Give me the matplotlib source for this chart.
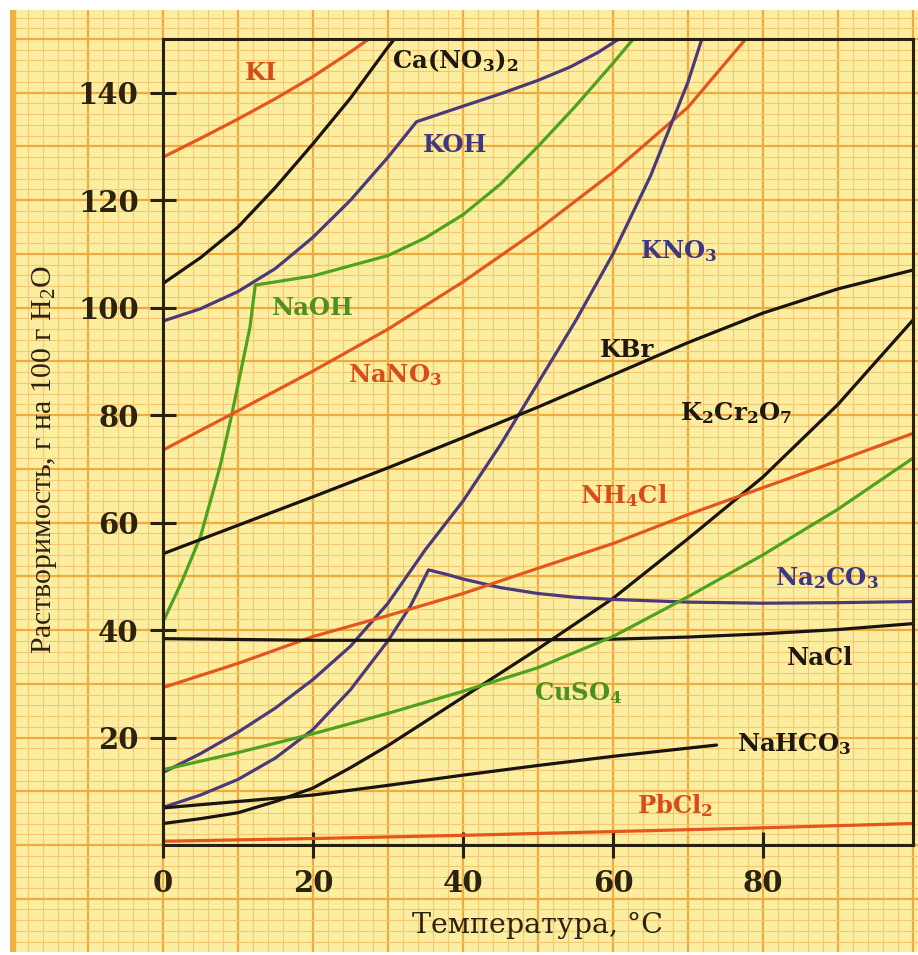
import numpy as np
import matplotlib
matplotlib.use('Agg')
import matplotlib.pyplot as plt

plt.rcParams['mathtext.default'] = 'regular'

# ---------------- data ----------------
ki_t = [0, 5, 10, 15, 20, 25, 30]
ki_s = [128, 131.5, 135.1, 138.9, 143, 147.6, 152.5]

cano3_t = [0, 5, 10, 15, 20, 25, 30, 32]
cano3_s = [104.5, 109.3, 115, 122.4, 130.5, 139, 148.5, 152]

koh_t = [0, 5, 10, 15, 20, 25, 30, 33.8, 40, 45, 50, 54.3, 58, 63]
koh_s = [97.5, 99.8, 103, 107.3, 113.1, 120, 128, 134.6, 137.5, 139.8, 142.3, 144.8, 147.5, 152]

naoh_t = [0, 2.5, 5, 7.6, 9.2, 11.6, 12.3, 15, 20, 25, 30, 35, 40, 45, 50, 55, 60, 63]
naoh_s = [41.5, 49, 57.4, 70.4, 80.3, 96.4, 104.2, 104.8, 105.9, 107.8, 109.7, 113, 117.3, 123, 130, 137.5, 145.5, 150.5]

nano3_t = [0, 10, 20, 30, 40, 50, 60, 70, 78]
nano3_s = [73.5, 80.8, 88.2, 96, 104.8, 114.5, 125.2, 137.3, 150.5]

kno3_t = [0, 5, 10, 15, 20, 25, 30, 35, 40, 45, 50, 55, 60, 65, 70, 73]
kno3_s = [13.5, 17, 21, 25.5, 30.8, 37, 45, 55, 64, 74.5, 86, 97.5, 110, 124.5, 142, 155]

kbr_t = [0, 10, 20, 30, 40, 50, 60, 70, 80, 90, 100]
kbr_s = [54.2, 59.5, 64.8, 70.2, 75.8, 81.5, 87.5, 93.5, 99, 103.5, 107]

k2cr2o7_t = [0, 5, 10, 15, 20, 25, 30, 40, 50, 60, 70, 80, 90, 100]
k2cr2o7_s = [4, 4.9, 6.0, 8.1, 10.6, 14.4, 18.5, 27.5, 36.5, 45.9, 57, 68.5, 82, 97.7]

na2co3_t = [0, 5, 10, 15, 20, 25, 30, 33, 35.4, 38, 40, 45, 50, 55, 60, 70, 80, 90, 100]
na2co3_s = [7, 9.3, 12.2, 16.2, 21.5, 28.9, 38, 44.5, 51.2, 50.3, 49.5, 47.9, 46.8, 46.1, 45.7, 45.2, 45, 45.1, 45.3]

nh4cl_t = [0, 10, 20, 30, 40, 50, 60, 70, 80, 90, 100]
nh4cl_s = [29.3, 33.8, 38.8, 42.7, 46.8, 51.5, 56.1, 61.5, 66.5, 71.5, 76.6]

nacl_t = [0, 20, 40, 60, 70, 80, 90, 100]
nacl_s = [38.4, 38.1, 38.1, 38.3, 38.7, 39.3, 40.1, 41.2]

cuso4_t = [0, 10, 20, 30, 40, 50, 60, 70, 80, 90, 100]
cuso4_s = [14, 17.2, 20.7, 24.5, 28.6, 33, 38.8, 46.2, 54, 62.5, 72]

nahco3_t = [0, 10, 20, 30, 40, 50, 60, 73.8]
nahco3_s = [6.9, 8.1, 9.3, 11.1, 13, 14.8, 16.5, 18.6]

pbcl2_t = [0, 20, 40, 60, 80, 100]
pbcl2_s = [0.7, 1.2, 1.8, 2.5, 3.2, 4.0]

x_ticks = [0, 20, 40, 60, 80]
y_ticks = [20, 40, 60, 80, 100, 120, 140]

x_label = 'Температура, °C'
y_label = 'Растворимость, г на 100 г H$_2$O'

# ---------------- styling ----------------
ORANGE, BLACK, PURPLE, GREEN = '#e4561c', '#1a1410', '#4a3a7a', '#4da21e'
T_ORANGE, T_BLACK, T_PURPLE, T_GREEN = '#d64c1a', '#1e1810', '#3d3586', '#4f8f1f'

series = [
    (ki_t, ki_s, ORANGE), (cano3_t, cano3_s, BLACK), (koh_t, koh_s, PURPLE),
    (naoh_t, naoh_s, GREEN), (nano3_t, nano3_s, ORANGE), (kno3_t, kno3_s, PURPLE),
    (kbr_t, kbr_s, BLACK), (k2cr2o7_t, k2cr2o7_s, BLACK), (na2co3_t, na2co3_s, PURPLE),
    (nh4cl_t, nh4cl_s, ORANGE), (nacl_t, nacl_s, BLACK), (cuso4_t, cuso4_s, GREEN),
    (nahco3_t, nahco3_s, BLACK), (pbcl2_t, pbcl2_s, ORANGE),
]

labels = [
    ('KI', 10.9, 142.3, T_ORANGE),
    ('Ca(NO$_3$)$_2$', 30.5, 144.6, T_BLACK),
    ('KOH', 34.7, 128.9, T_PURPLE),
    ('NaOH', 14.5, 98.6, T_GREEN),
    ('NaNO$_3$', 24.7, 86.2, T_ORANGE),
    ('KNO$_3$', 63.6, 109.2, T_PURPLE),
    ('KBr', 58.3, 90.8, T_BLACK),
    ('K$_2$Cr$_2$O$_7$', 68.9, 79.1, T_BLACK),
    ('NH$_4$Cl', 55.6, 63.6, T_ORANGE),
    ('Na$_2$CO$_3$', 81.6, 48.4, T_PURPLE),
    ('NaCl', 83.2, 33.5, T_BLACK),
    ('CuSO$_4$', 49.4, 27.0, T_GREEN),
    ('NaHCO$_3$', 76.5, 17.4, T_BLACK),
    ('PbCl$_2$', 63.2, 5.9, T_ORANGE),
]

W, H = 918, 955
fig = plt.figure(figsize=(W / 100, H / 100), dpi=100, facecolor='white')

AX_L, AX_R, AX_T, AX_B = 163, 913, 39, 845
XMIN, XMAX, YMIN, YMAX = 0, 100, 0, 150
sx = (AX_R - AX_L) / (XMAX - XMIN)
sy = (AX_B - AX_T) / (YMAX - YMIN)

# graph-paper background covering the whole picture
BG_L, BG_R, BG_T, BG_B = 10, 918, 10, 952
bg = fig.add_axes([BG_L / W, 1 - BG_B / H, (BG_R - BG_L) / W, (BG_B - BG_T) / H], zorder=0)
bg.set_xlim((BG_L - AX_L) / sx, (BG_R - AX_L) / sx)
bg.set_ylim((AX_B - BG_B) / sy, (AX_B - BG_T) / sy)
bg.axis('off')
bg.add_patch(plt.Rectangle((0, 0), 1, 1, transform=bg.transAxes, color='#fcee a0'.replace(' ', ''), zorder=0))
for v in np.arange(-20, 102, 2):
    major = (v % 10 == 0)
    bg.axvline(v, color='#efaa40' if major else '#f4c872', lw=1.6 if major else 0.8, zorder=1)
for v in np.arange(-18, 156, 2):
    major = (v % 10 == 0)
    bg.axhline(v, color='#efaa40' if major else '#f4c872', lw=1.6 if major else 0.8, zorder=1)
bg.add_patch(plt.Rectangle((0, 0), 0.006, 1, transform=bg.transAxes, color='#f0b040', zorder=2))

ax = fig.add_axes([AX_L / W, 1 - AX_B / H, (AX_R - AX_L) / W, (AX_B - AX_T) / H], zorder=1)
ax.patch.set_alpha(0)
ax.set_xlim(XMIN, XMAX)
ax.set_ylim(YMIN, YMAX)

for t, s, c in series:
    ax.plot(t, s, color=c, lw=2.3, solid_joinstyle='round', solid_capstyle='round')

for txt, x, y, c in labels:
    ax.text(x, y, txt, color=c, fontsize=17.5, fontweight='bold', family='DejaVu Serif',
            ha='left', va='baseline')

for sp in ax.spines.values():
    sp.set_color('#2a2010')
    sp.set_linewidth(2.2)

ax.set_xticks(x_ticks)
ax.set_yticks(y_ticks)
ax.tick_params(direction='inout', length=19, width=2.2, color='#2a2010', pad=8,
               labelsize=21, labelcolor='#2b2210')
for lab in ax.get_xticklabels() + ax.get_yticklabels():
    lab.set_family('DejaVu Serif')
    lab.set_fontweight('bold')

fig.text(537 / W, 1 - 933 / H, x_label, ha='center', va='baseline', fontsize=20.5,
         family='DejaVu Serif', color='#2b2210')
fig.text(45 / W, 1 - 460 / H, y_label, ha='center', va='center', rotation=90,
         fontsize=21.5, family='Liberation Serif', color='#2b2210')

fig.savefig('out.png', dpi=100, facecolor='white')
